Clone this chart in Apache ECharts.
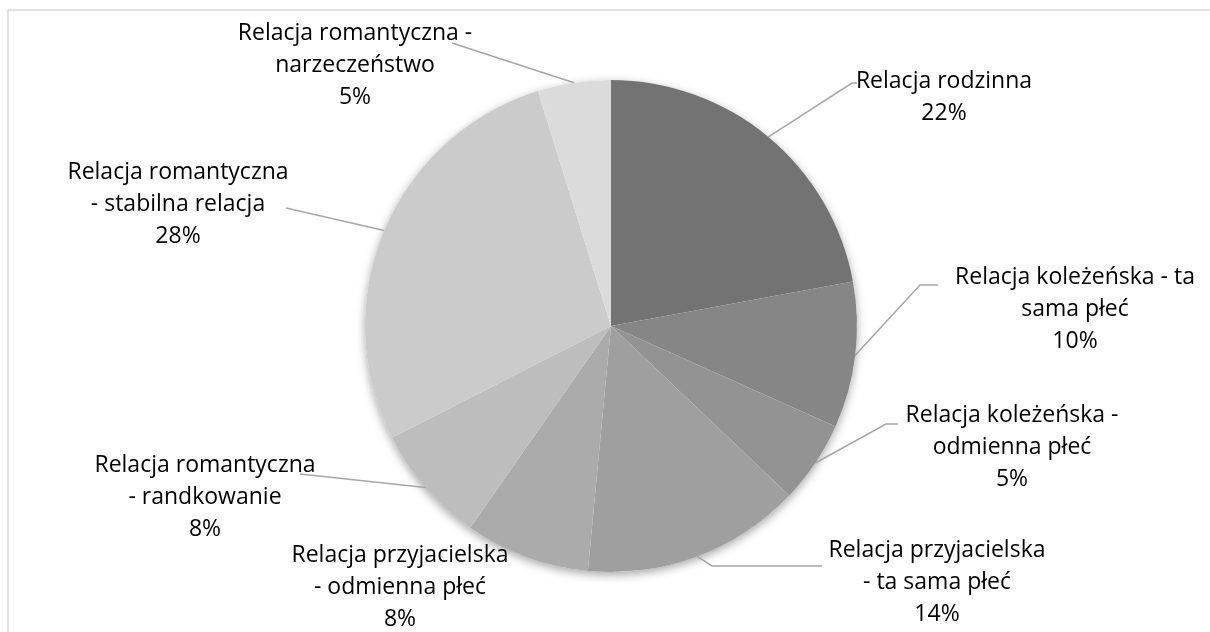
<!DOCTYPE html>
<html>
<head>
<meta charset="utf-8">
<script src="https://cdn.jsdelivr.net/npm/echarts@6/dist/echarts.min.js"></script>
<style>
  html, body { margin: 0; padding: 0; background: #fff; }
  #chart { width: 1210px; height: 632px; }
</style>
</head>
<body>
<div id="chart"></div>
<script>
// categories (wrapped like in the original labels)
const categories = [
  'Relacja rodzinna',
  'Relacja koleżeńska - ta\nsama płeć',
  'Relacja koleżeńska -\nodmienna płeć',
  'Relacja przyjacielska\n- ta sama płeć',
  'Relacja przyjacielska\n- odmienna płeć',
  'Relacja romantyczna\n- randkowanie',
  'Relacja romantyczna\n- stabilna relacja',
  'Relacja romantyczna -\nnarzeczeństwo'
];
// shares
const values = [22.1, 9.6, 5.4, 14.4, 8.2, 7.8, 27.7, 4.8];
const colors = ['#737373', '#868686', '#939393', '#9f9f9f', '#ababab', '#bdbdbd', '#cbcbcb', '#dbdbdb'];

// label placement (center x, top y) and leader line bends
const labelPos = [[944, 65], [1075, 261], [1012, 399], [937, 534], [400, 539], [205, 449], [178, 156], [355, 17]];
const leaders = [
  [[852, 83], [857, 83]],
  [[920, 285], [938, 285]],
  [[886, 424], [898, 424]],
  [[712, 566], [822, 566]],
  null,
  [[300, 474], [300, 474]],
  [[286, 208], [286, 208]],
  [[452, 43], [452, 43]]
];

let myChart = echarts.init(document.getElementById('chart'));

let pieData = values.map(function (v, i) {
  let item = { name: categories[i], value: v, itemStyle: { color: colors[i] } };
  if (!leaders[i]) item.labelLine = { show: false };
  return item;
});

myChart.setOption({
  animation: false,
  backgroundColor: '#fff',
  graphic: [{
    type: 'rect',
    shape: { x: 8, y: 10, width: 1230, height: 650 },
    style: { fill: 'none', stroke: '#d9d9d9', lineWidth: 1.5 },
    silent: true
  }],
  series: [
    {
      // shadow disc under the pie
      type: 'pie',
      silent: true,
      z: 1,
      center: [611, 326],
      radius: 246,
      label: { show: false },
      labelLine: { show: false },
      itemStyle: {
        color: '#fff',
        shadowBlur: 10,
        shadowOffsetY: 3,
        shadowColor: 'rgba(0,0,0,0.35)'
      },
      data: [{ value: 1 }]
    },
    {
      type: 'pie',
      z: 2,
      center: [611, 326],
      radius: 246,
      startAngle: 90,
      clockwise: true,
      itemStyle: { borderWidth: 0 },
      label: {
        show: true,
        position: 'outside',
        color: '#000',
        fontFamily: 'Open Sans',
        fontSize: 23,
        lineHeight: 32,
        align: 'center',
        formatter: function (p) {
          return p.name + '\n' + Math.round(p.percent) + '%';
        }
      },
      labelLine: {
        show: true,
        lineStyle: { color: '#a6a6a6', width: 1.5 }
      },
      labelLayout: function (params) {
        let i = params.dataIndex;
        let out = {
          x: labelPos[i][0],
          y: labelPos[i][1],
          align: 'center',
          verticalAlign: 'top'
        };
        if (leaders[i] && params.labelLinePoints) {
          out.labelLinePoints = [params.labelLinePoints[0]].concat(leaders[i]);
        }
        return out;
      },
      data: pieData
    }
  ]
});
</script>
</body>
</html>
